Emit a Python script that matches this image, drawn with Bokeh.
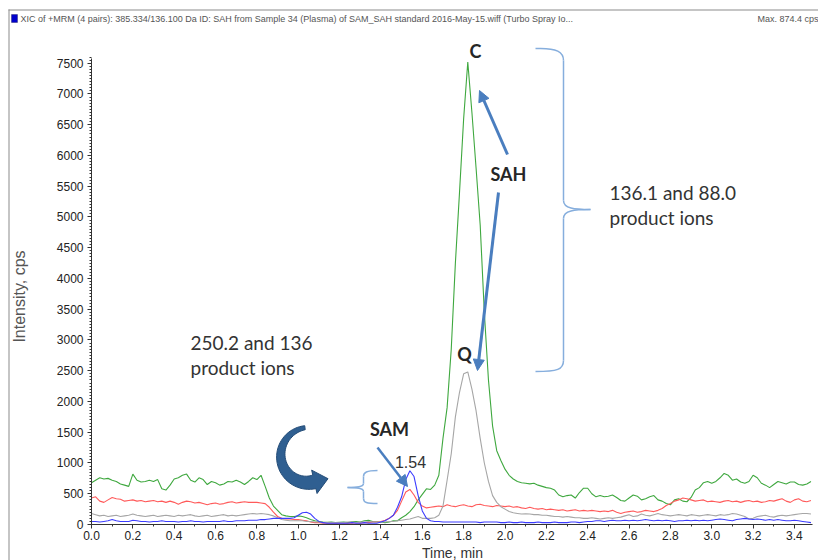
import numpy as np
from bokeh.plotting import figure
from bokeh.models import (Range1d, FixedTicker, PrintfTickFormatter, Label, Arrow,
                          NormalHead, BoxAnnotation)
from bokeh.embed import file_html
from bokeh.resources import INLINE

# ---------------- data ----------------
time_min = [
    0.00, 0.02, 0.04, 0.06, 0.08, 0.10, 0.12, 0.14, 0.16, 0.18,
    0.20, 0.22, 0.24, 0.26, 0.28, 0.30, 0.32, 0.34, 0.36, 0.38,
    0.40, 0.42, 0.44, 0.46, 0.48, 0.50, 0.52, 0.54, 0.56, 0.58,
    0.60, 0.62, 0.64, 0.66, 0.68, 0.70, 0.72, 0.74, 0.76, 0.78,
    0.80, 0.82, 0.84, 0.86, 0.88, 0.90, 0.92, 0.94, 0.96, 0.98,
    1.00, 1.02, 1.04, 1.06, 1.08, 1.10, 1.12, 1.14, 1.16, 1.18,
    1.20, 1.22, 1.24, 1.26, 1.28, 1.30, 1.32, 1.34, 1.36, 1.38,
    1.40, 1.42, 1.44, 1.46, 1.48, 1.50, 1.52, 1.54, 1.56, 1.58,
    1.60, 1.62, 1.64, 1.66, 1.68, 1.70, 1.72, 1.74, 1.76, 1.78,
    1.80, 1.82, 1.84, 1.86, 1.88, 1.90, 1.92, 1.94, 1.96, 1.98,
    2.00, 2.02, 2.04, 2.06, 2.08, 2.10, 2.12, 2.14, 2.16, 2.18,
    2.20, 2.22, 2.24, 2.26, 2.28, 2.30, 2.32, 2.34, 2.36, 2.38,
    2.40, 2.42, 2.44, 2.46, 2.48, 2.50, 2.52, 2.54, 2.56, 2.58,
    2.60, 2.62, 2.64, 2.66, 2.68, 2.70, 2.72, 2.74, 2.76, 2.78,
    2.80, 2.82, 2.84, 2.86, 2.88, 2.90, 2.92, 2.94, 2.96, 2.98,
    3.00, 3.02, 3.04, 3.06, 3.08, 3.10, 3.12, 3.14, 3.16, 3.18,
    3.20, 3.22, 3.24, 3.26, 3.28, 3.30, 3.32, 3.34, 3.36, 3.38,
    3.40, 3.42, 3.44, 3.46, 3.48,
]

sah_136_green = [
    680, 720, 760, 740, 750, 720, 700, 660, 640, 620,
    820, 720, 690, 700, 720, 700, 730, 580, 560, 640,
    740, 760, 800, 820, 720, 690, 760, 730, 650, 700,
    680, 640, 660, 700, 690, 720, 690, 650, 700, 760,
    730, 800, 620, 430, 300, 230, 160, 140, 130, 130,
    140, 130, 110, 80, 60, 50, 40, 35, 40, 30,
    35, 40, 30, 45, 50, 40, 60, 70, 50, 45,
    40, 30, 40, 60, 60, 110, 150, 210, 290, 400,
    490, 580, 570, 640, 800, 1400, 1900, 2850, 4250, 5400,
    6600, 7520, 6700, 5800, 4870, 3450, 2350, 1600, 1200, 1040,
    900, 800, 740, 700, 680, 670, 660, 670, 640, 620,
    600, 590, 560, 480, 450, 470, 480, 430, 520, 590,
    590, 500, 450, 470, 450, 460, 480, 440, 390, 380,
    430, 480, 460, 400, 420, 450, 470, 400, 380, 340,
    320, 400, 420, 380, 370, 440, 560, 600, 680, 700,
    670, 700, 760, 830, 800, 720, 740, 690, 670, 700,
    800, 760, 670, 640, 600, 650, 700, 680, 660, 690,
    690, 650, 640, 660, 700,
]

sah_88_gray = [
    180, 160, 140, 150, 130, 140, 150, 130, 140, 150,
    170, 150, 140, 130, 140, 150, 130, 140, 150, 140,
    130, 150, 140, 150, 160, 140, 130, 140, 150, 130,
    140, 150, 160, 140, 150, 140, 150, 160, 170, 180,
    170, 180, 170, 160, 140, 110, 80, 70, 60, 60,
    60, 60, 50, 50, 40, 40, 30, 30, 30, 30,
    30, 30, 40, 40, 30, 40, 40, 50, 40, 40,
    40, 40, 50, 50, 60, 70, 80, 90, 110, 130,
    100, 100, 100, 110, 150, 300, 720, 1150, 1750, 2150,
    2450, 2480, 2200, 1850, 1400, 1000, 700, 470, 360, 290,
    250, 210, 190, 180, 170, 175, 170, 160, 160, 150,
    150, 140, 130, 130, 120, 130, 120, 110, 110, 100,
    100, 110, 100, 90, 100, 110, 100, 110, 120, 140,
    160, 130, 140, 170, 150, 140, 160, 180, 160, 150,
    140, 150, 160, 150, 140, 160, 150, 140, 150, 160,
    150, 140, 160, 150, 160, 180, 170, 150, 130, 90,
    100, 130, 140, 150, 130, 120, 140, 150, 140, 150,
    160, 170, 180, 180, 170,
]

sam_250_red = [
    430, 450, 380, 360, 400, 440, 420, 410, 380, 390,
    400, 380, 390, 370, 380, 390, 370, 380, 360, 380,
    360, 330, 360, 380, 370, 350, 360, 340, 320, 340,
    350, 330, 340, 360, 370, 350, 360, 370, 360, 360,
    360, 350, 340, 280, 200, 130, 100, 90, 90, 80,
    80, 70, 60, 40, 30, 30, 20, 20, 20, 20,
    20, 20, 20, 20, 30, 20, 30, 30, 40, 40,
    50, 70, 100, 150, 230, 380, 530, 570, 480, 360,
    300, 270, 280, 290, 300, 290, 320, 300, 290, 310,
    320, 300, 290, 320, 330, 310, 300, 290, 310, 300,
    290, 300, 280, 290, 270, 260, 280, 260, 250, 260,
    240, 250, 240, 230, 240, 220, 230, 240, 220, 230,
    220, 230, 220, 210, 220, 210, 230, 200, 180, 200,
    210, 220, 200, 210, 230, 220, 210, 230, 260, 310,
    340, 380, 400, 430, 420, 400, 380, 390, 400, 370,
    380, 370, 360, 380, 390, 370, 380, 360, 380, 390,
    370, 380, 360, 370, 390, 380, 400, 420, 380, 360,
    400, 420, 380, 370, 390,
]

sam_136_blue = [
    50, 50, 40, 50, 60, 80, 60, 50, 50, 50,
    70, 60, 50, 50, 40, 50, 50, 60, 50, 50,
    50, 40, 50, 50, 60, 50, 50, 40, 50, 50,
    50, 50, 60, 50, 50, 60, 60, 60, 70, 70,
    70, 80, 80, 90, 100, 100, 100, 100, 100, 110,
    150, 190, 200, 170, 100, 50, 30, 20, 20, 20,
    20, 20, 20, 30, 20, 20, 30, 20, 20, 20,
    40, 60, 100, 150, 280, 450, 730, 874, 780, 470,
    220, 100, 60, 50, 50, 40, 40, 40, 40, 40,
    40, 40, 40, 40, 30, 40, 40, 40, 40, 30,
    30, 40, 30, 30, 40, 30, 30, 30, 40, 30,
    30, 30, 40, 30, 30, 30, 40, 40, 30, 40,
    50, 50, 60, 60, 50, 60, 70, 60, 60, 70,
    60, 70, 60, 70, 80, 70, 60, 70, 60, 70,
    60, 50, 60, 60, 70, 60, 70, 60, 70, 60,
    70, 80, 90, 80, 70, 60, 80, 90, 100, 90,
    80, 90, 80, 70, 80, 70, 80, 70, 60, 60,
    70, 60, 50, 40, 30,
]

x_tick_values = [0.0, 0.2, 0.4, 0.6, 0.8, 1.0, 1.2, 1.4, 1.6, 1.8, 2.0,
                 2.2, 2.4, 2.6, 2.8, 3.0, 3.2, 3.4]
y_tick_values = [0, 500, 1000, 1500, 2000, 2500, 3000, 3500, 4000, 4500,
                 5000, 5500, 6000, 6500, 7000, 7500]

header_text = ("XIC of +MRM (4 pairs): 385.334/136.100 Da ID: SAH from Sample 34 (Plasma) "
               "of SAM_SAH standard 2016-May-15.wiff (Turbo Spray Io...")
max_text = "Max. 874.4 cps"

# ---------------- layout geometry ----------------
# The frame fills the whole canvas; axes are pinned at x=0 / y=0.
W, H = 818, 560
AX_L, AX_R, AX_T, AX_B = 91, 812, 58, 524   # plot-area edges in canvas pixels
PX_PER_MIN = 206.75
CPS_PER_PX = 16.26

def dx(cx):  # canvas px -> minutes
    return (cx - AX_L) / PX_PER_MIN

def dy(cy):  # canvas px -> cps
    return (AX_B - cy) * CPS_PER_PX

def sx(cx):  # canvas px -> screen units (frame == canvas)
    return cx

def sy(cy):
    return H - cy

p = figure(width=W, height=H, output_backend="svg", toolbar_location=None,
           x_range=Range1d(dx(0), dx(W)), y_range=Range1d(dy(H), dy(0)),
           min_border=0)
p.outline_line_color = None
p.xgrid.visible = False
p.ygrid.visible = False
p.background_fill_color = "white"
p.border_fill_color = "white"

AX_FONT = "Liberation Sans"
for ax in (p.xaxis[0], p.yaxis[0]):
    ax.axis_line_color = "#333333"
    ax.major_tick_line_color = "#333333"
    ax.minor_tick_line_color = "#333333"
    ax.major_tick_out = 4
    ax.major_tick_in = 0
    ax.minor_tick_out = 2
    ax.minor_tick_in = 0
    ax.major_label_text_font = AX_FONT
    ax.major_label_text_font_size = "12px"
    ax.major_label_text_color = "#222222"
    ax.fixed_location = 0

xa = p.xaxis[0]
xa.ticker = FixedTicker(ticks=x_tick_values,
                        minor_ticks=[round(i * 0.1, 1) for i in range(35)])
xa.formatter = PrintfTickFormatter(format="%.1f")
xa.major_label_standoff = 2
xa.bounds = (0, dx(AX_R))

ya = p.yaxis[0]
ya.ticker = FixedTicker(ticks=y_tick_values, minor_ticks=list(range(0, 7601, 50)))
ya.major_label_standoff = 4
ya.bounds = (0, dy(AX_T))

# ---------------- traces ----------------
p.line(time_min, sah_136_green, line_color="#3fa83f", line_width=1.1)
p.line(time_min, sam_250_red, line_color="#ff5a5a", line_width=1.1)
p.line(time_min, sah_88_gray, line_color="#a6a6a6", line_width=1.1)
p.line(time_min, sam_136_blue, line_color="#3c3cff", line_width=1.1)

# ---------------- frame decorations ----------------
def screen_box(l, r, t, b, **kw):
    p.add_layout(BoxAnnotation(left=sx(l), right=sx(r), top=sy(t), bottom=sy(b),
                               left_units="screen", right_units="screen",
                               top_units="screen", bottom_units="screen", **kw))

screen_box(8, 9, 9, 575, fill_color="#8c8c8c", fill_alpha=1, line_alpha=0)
screen_box(8, 830, 9, 10, fill_color="#8c8c8c", fill_alpha=1, line_alpha=0)
screen_box(11, 17, 14, 22, fill_color="#0000cc", fill_alpha=1,
           line_color="#000033", line_width=1)

p.add_layout(Label(x=sx(20), y=sy(18), x_units="screen", y_units="screen",
                   text=header_text, text_font=AX_FONT, text_font_size="9px",
                   text_color="#555555", text_baseline="middle"))
p.add_layout(Label(x=sx(757), y=sy(18), x_units="screen", y_units="screen",
                   text=max_text, text_font=AX_FONT, text_font_size="9px",
                   text_color="#555555", text_baseline="middle"))

# axis titles
p.add_layout(Label(x=sx(19), y=sy(296), x_units="screen", y_units="screen",
                   text="Intensity, cps", angle=np.pi / 2, text_align="center",
                   text_baseline="middle", text_font=AX_FONT,
                   text_font_size="16px", text_color="#555555"))
p.add_layout(Label(x=sx(452), y=sy(552), x_units="screen", y_units="screen",
                   text="Time, min", text_align="center", text_baseline="middle",
                   text_font=AX_FONT, text_font_size="14px",
                   text_color="#333333"))

# ---------------- annotations ----------------
ANN_FONT = "Lato"
def bold_label(cx, cy, txt, size="18px"):
    p.add_layout(Label(x=dx(cx), y=dy(cy), text=txt, text_align="center",
                       text_baseline="middle", text_font=ANN_FONT,
                       text_font_size=size, text_font_style="bold",
                       text_color="#262626"))

bold_label(475, 50, "C")
bold_label(508, 173, "SAH")
bold_label(464, 353, "Q")
bold_label(389, 428, "SAM")
p.add_layout(Label(x=dx(410), y=dy(461), text="1.54", text_align="center",
                   text_baseline="middle", text_font=AX_FONT,
                   text_font_size="16px", text_color="#333333"))

for (cx, cy1, cy2, l1, l2) in [(190, 342, 367, "250.2 and 136", "product ions"),
                               (609, 192, 217, "136.1 and 88.0", "product ions")]:
    for cy, t in ((cy1, l1), (cy2, l2)):
        p.add_layout(Label(x=dx(cx), y=dy(cy), text=t, text_align="left",
                           text_baseline="middle", text_font=ANN_FONT,
                           text_font_size="19px", text_color="#333333"))

ARROW_BLUE = "#4a7ebf"
for (x0, y0, x1, y1, lw) in [(507, 154, 479, 90, 3),
                             (498, 192, 477, 370, 3),
                             (377, 447, 407, 486, 2.5)]:
    p.add_layout(Arrow(end=NormalHead(size=11, fill_color=ARROW_BLUE,
                                      line_color=ARROW_BLUE),
                       x_start=dx(x0), y_start=dy(y0), x_end=dx(x1), y_end=dy(y1),
                       line_color=ARROW_BLUE, line_width=lw))

# curly braces (light blue)
BRACE = "#86aedd"
def brace(segs):
    for (a, b, c1, c2) in segs:
        p.bezier(x0=[dx(a[0])], y0=[dy(a[1])], x1=[dx(b[0])], y1=[dy(b[1])],
                 cx0=[dx(c1[0])], cy0=[dy(c1[1])], cx1=[dx(c2[0])], cy1=[dy(c2[1])],
                 line_color=BRACE, line_width=1.5)

brace([((535, 48), (563, 60), (557, 47), (563, 52)),
       ((563, 60), (563, 200), (563, 60), (563, 200)),
       ((563, 200), (590, 209), (563, 208), (574, 209)),
       ((590, 209), (563, 218), (574, 209), (563, 210)),
       ((563, 218), (563, 360), (563, 218), (563, 360)),
       ((563, 360), (535, 371), (563, 369), (557, 371))])

brace([((377, 470), (363, 476), (366, 470), (363, 472)),
       ((363, 476), (363, 483), (363, 476), (363, 483)),
       ((363, 483), (347, 487), (363, 487), (354, 487)),
       ((347, 487), (363, 491), (354, 487), (363, 487)),
       ((363, 491), (363, 498), (363, 491), (363, 498)),
       ((363, 498), (377, 503), (363, 502), (366, 503))])

# big curved arrow (tapered crescent with head), built in canvas pixels
ccx, ccy = 308.0, 456.0
th = np.radians(np.linspace(97, 283, 40))
r = np.linspace(29, 26, th.size)
hw = np.linspace(2.0, 7.0, th.size)
mx = ccx + r * np.cos(th)
my = ccy - r * np.sin(th)
ox, oy = ccx + (r + hw) * np.cos(th), ccy - (r + hw) * np.sin(th)
ix, iy = ccx + (r - hw) * np.cos(th), ccy - (r - hw) * np.sin(th)
tan = np.array([-np.sin(th[-1]), -np.cos(th[-1])])
nrm = np.array([np.cos(th[-1]), -np.sin(th[-1])])
base = np.array([mx[-1], my[-1]])
tip = base + tan * 14
h1 = base + nrm * 12
h2 = base - nrm * 12
px_x = list(ox) + [h1[0], tip[0], h2[0]] + list(ix[::-1])
px_y = list(oy) + [h1[1], tip[1], h2[1]] + list(iy[::-1])
p.patch([dx(v) for v in px_x], [dy(v) for v in px_y], fill_color="#2f5f91",
        line_color="#244c77", line_width=1)

open("out.html", "w").write(file_html(p, INLINE))
